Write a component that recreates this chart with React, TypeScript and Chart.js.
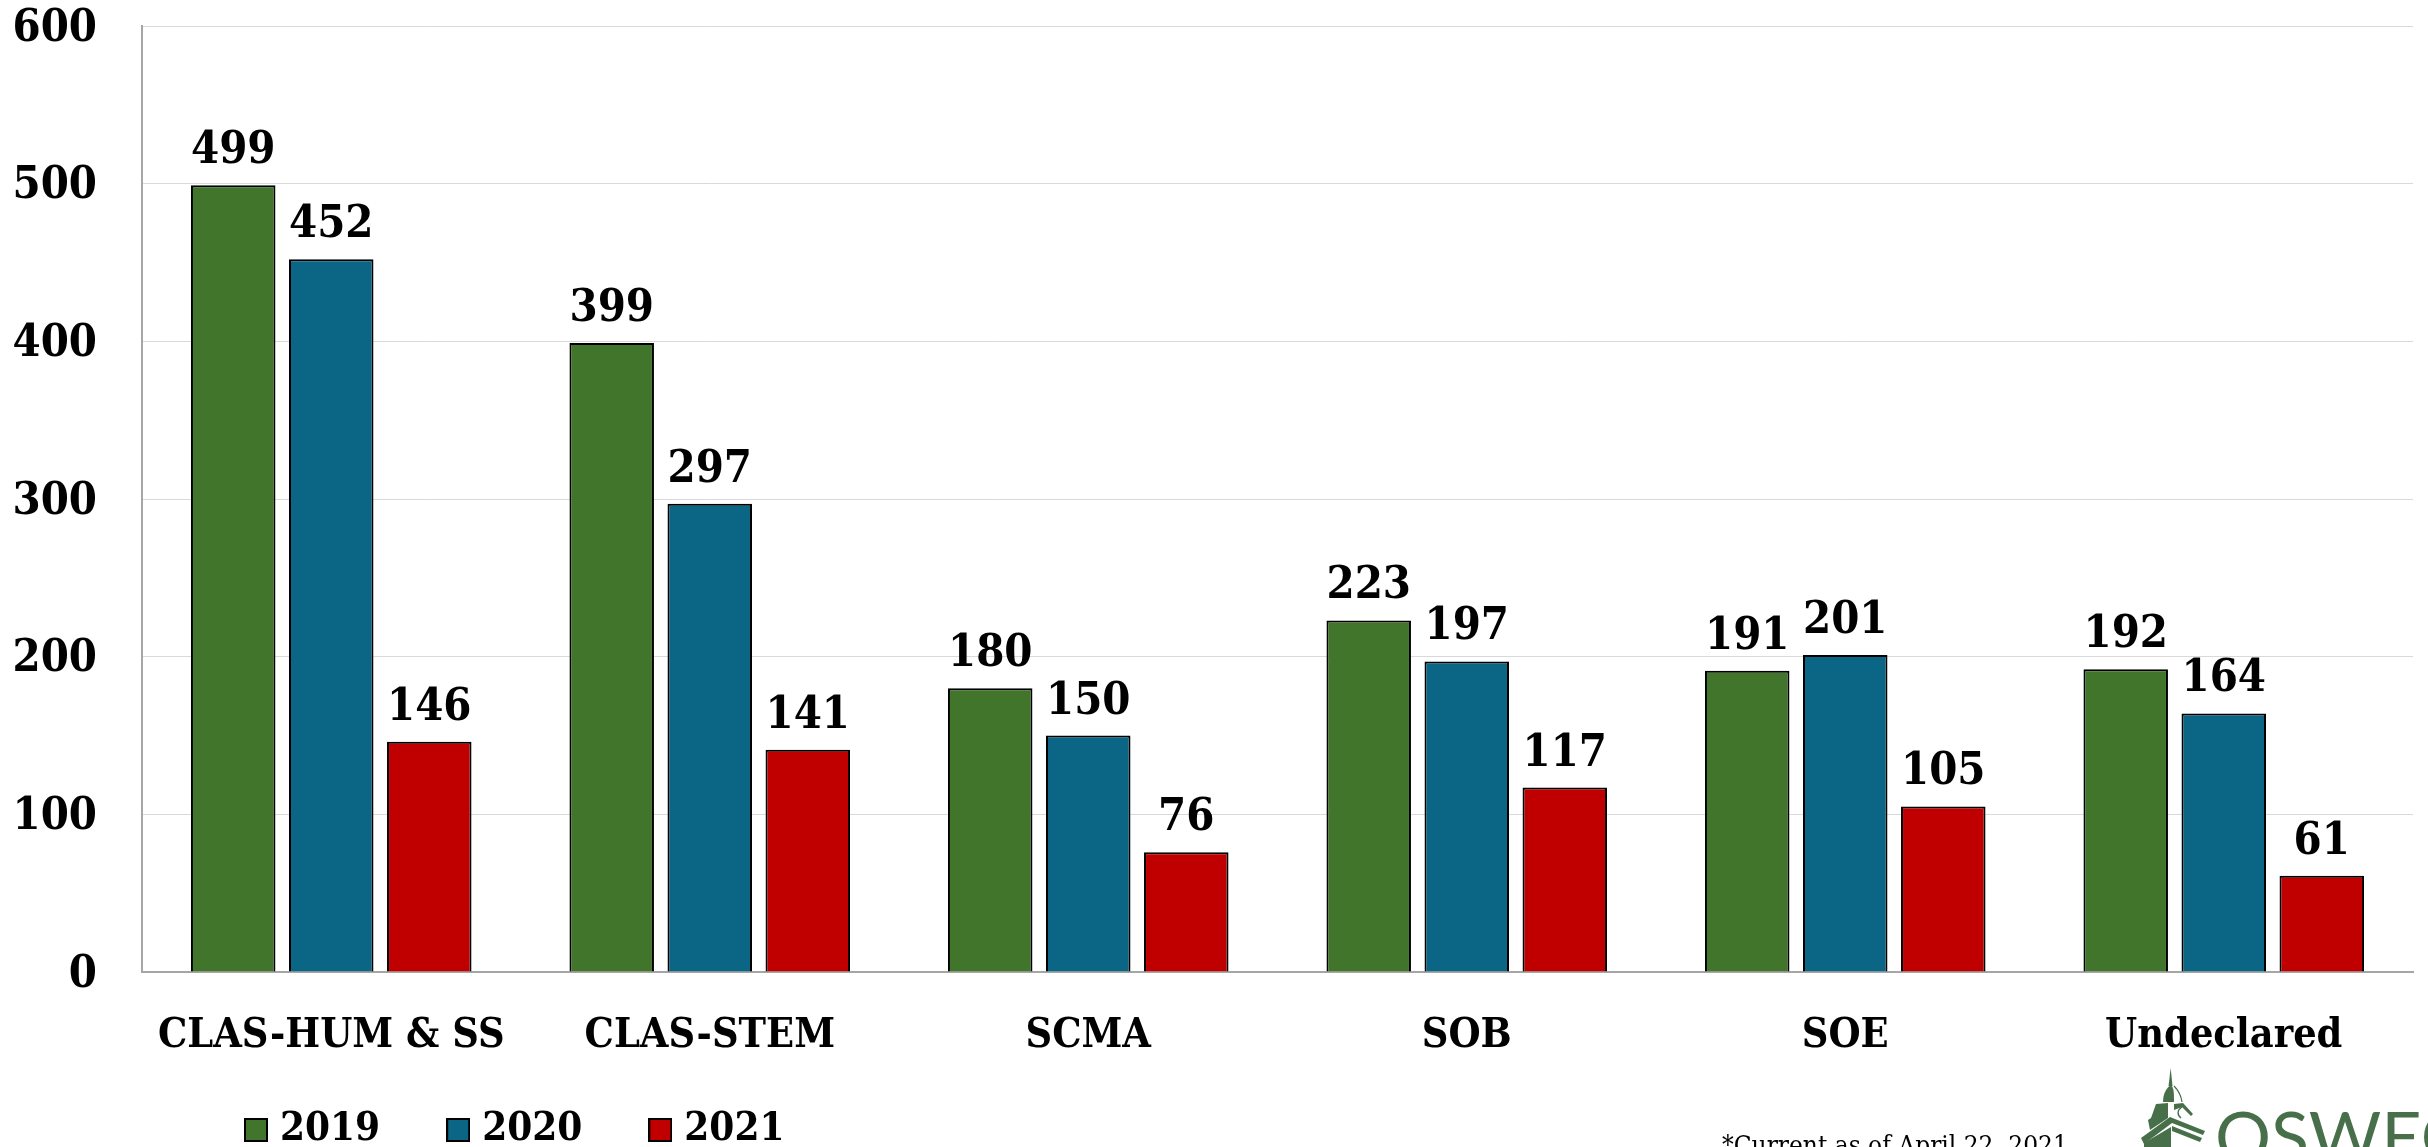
import React, { useEffect, useRef } from "react";
import { Chart, registerables } from "chart.js";

Chart.register(...registerables);

const categories = ["CLAS-HUM & SS", "CLAS-STEM", "SCMA", "SOB", "SOE", "Undeclared"];
const values2019 = [499, 399, 180, 223, 191, 192];
const values2020 = [452, 297, 150, 197, 201, 164];
const values2021 = [146, 141, 76, 117, 105, 61];
const green = "#41752B";
const blue = "#0B6686";
const red = "#C00000";
const FONT = "'DejaVu Serif Condensed', 'DejaVu Serif', serif";

function swatch(color: string) {
  const c = document.createElement("canvas");
  c.width = 24;
  c.height = 24;
  const g = c.getContext("2d")!;
  g.fillStyle = color;
  g.fillRect(0, 0, 24, 24);
  g.strokeStyle = "#000";
  g.lineWidth = 2;
  g.strokeRect(1, 1, 22, 22);
  return c;
}

const legendPlacePlugin = {
  id: "legendPlace",
  beforeLayout(chart: any) {
    const l = chart.legend;
    if (l && !l.__wrapped) {
      const fit = l.fit.bind(l);
      l.fit = () => { fit(); l.height = 0; };
      l.__wrapped = true;
    }
  },
  afterLayout(chart: any) {
    const l = chart.legend;
    l.left = 178;
    l.top = 1036;
  },
};

const valueLabels = {
  id: "valueLabels",
  afterDatasetsDraw(chart: any) {
    const { ctx } = chart;
    ctx.save();
    ctx.font = `bold 45px ${FONT}`;
    ctx.fillStyle = "#000";
    ctx.textAlign = "center";
    ctx.textBaseline = "alphabetic";
    chart.data.datasets.forEach((ds: any, i: number) => {
      chart.getDatasetMeta(i).data.forEach((bar: any, j: number) => {
        ctx.fillText(String(ds.data[j]), bar.x, bar.y - 22);
      });
    });
    ctx.restore();
  },
};

export default function App() {
  const ref = useRef<HTMLCanvasElement>(null);
  useEffect(() => {
    const chart = new Chart(ref.current!, {
      type: "bar",
      data: {
        labels: categories,
        datasets: [
          { label: "2019", data: values2019, backgroundColor: green },
          { label: "2020", data: values2020, backgroundColor: blue },
          { label: "2021", data: values2021, backgroundColor: red },
        ].map((d) => ({ ...d, borderColor: "#000", borderWidth: 2, categoryPercentage: 0.777, barPercentage: 0.862 })),
      },
      options: {
        animation: false,
        responsive: false,
        layout: { padding: { top: 26, right: 15, bottom: 0, left: 0 } },
        plugins: {
          tooltip: { enabled: false },
          legend: {
            position: "bottom",
            align: "start",
            labels: {
              usePointStyle: true,
              boxWidth: 8,
              boxHeight: 24,
              padding: 74,
              color: "#000",
              font: { family: FONT, weight: "bold", size: 40 },
              generateLabels(chart: any) {
                return Chart.defaults.plugins.legend.labels.generateLabels(chart).map((item: any, i: number) => ({
                  ...item,
                  pointStyle: swatch(chart.data.datasets[i].backgroundColor),
                }));
              },
            },
          },
        },
        scales: {
          x: {
            grid: { display: false },
            border: { color: "#A6A6A6", width: 2 },
            ticks: { color: "#000", padding: 32, font: { family: FONT, weight: "bold", size: 41 }, maxRotation: 0, autoSkip: false },
            afterFit(s: any) { s.height = 175; s.paddingLeft = 0; s.paddingRight = 0; },
          },
          y: {
            min: 0,
            max: 600,
            grid: { color: "#D9D9D9", lineWidth: 1, drawTicks: false },
            border: { color: "#A6A6A6", width: 2 },
            ticks: { stepSize: 100, color: "#000", padding: 45, labelOffset: 3, font: { family: FONT, weight: "bold", size: 45 } },
            afterFit(s: any) { s.width = 142; s.paddingTop = 0; s.paddingBottom = 0; },
          },
        },
      },
      plugins: [legendPlacePlugin, valueLabels],
    } as any);
    return () => chart.destroy();
  }, []);
  return (
    <div style={{ position: "absolute", left: 0, top: 0, width: 2428, height: 1147, overflow: "hidden", background: "#fff" }}>
      <canvas ref={ref} width={2428} height={1147} style={{ display: "block" }} />
      <div style={{ position: "absolute", left: 1722, top: 1130, fontFamily: FONT, fontSize: 26, color: "#000", whiteSpace: "nowrap" }}>
        *Current as of April 22, 2021
      </div>
      <svg style={{ position: "absolute", left: 2130, top: 1060 }} width={298} height={87} viewBox="0 0 298 87">
        <g fill="#47704A">
          <path d="M40.7 8 L38.5 26 L42.5 26 Z" />
          <path d="M33 42 C33 33 37 27 41 25 C44 28 44 33 44 42 Z" />
          <path d="M21 58 L26 44 L38 43 L38 58 L20 70 L18 60 Z" />
          <path d="M44 44 L53 43 L63 54 L61 56 L52 47 L44 50 Z" />
          <path d="M11 78 L40 57 L75 71 L73 75 L42 63 L14 84 Z" />
          <path d="M42 66 L72 78 L70 82 L42 71 Z" />
          <path d="M14 87 L14 83 L41 67 L41 87 Z" />
        </g>
        <path d="M44 26 C48 30 51 35 52 42" fill="none" stroke="#47704A" strokeWidth="1.2" />
        <path d="M52 47 C47 50 47 55 51 58" fill="none" stroke="#47704A" strokeWidth="1.4" />
        <text x="85" y="102" fontFamily="Lato, sans-serif" fontSize="70" fill="#47704A">OSWEGO</text>
      </svg>
    </div>
  );
}
